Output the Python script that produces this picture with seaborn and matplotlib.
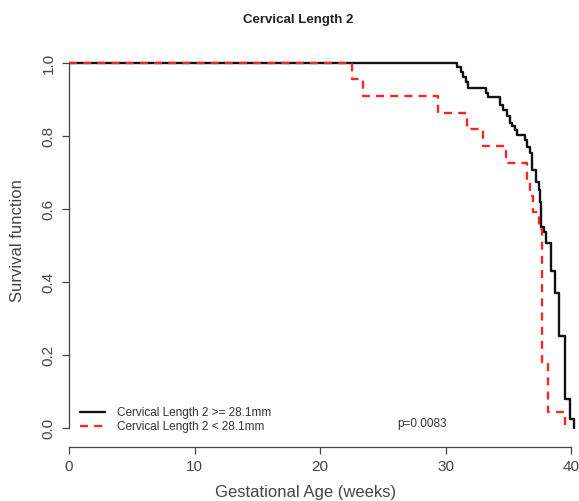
import numpy as np
import pandas as pd
import matplotlib
matplotlib.use("Agg")
import matplotlib.pyplot as plt
import seaborn as sns

# ---- data ----
title = "Cervical Length 2"
label_long = "Cervical Length 2 >= 28.1mm"
label_short = "Cervical Length 2 < 28.1mm"
p_text = "p=0.0083"
x_label = "Gestational Age (weeks)"
y_label = "Survival function"

long_times = [0, 30.9, 31.2, 31.4, 31.6, 31.8, 33.2, 33.4, 34.3, 34.6, 34.9, 35.1, 35.3,
              35.5, 35.7, 36.3, 36.5, 36.7, 36.9, 37.2, 37.4, 37.5, 37.6, 37.85, 38.0,
              38.4, 38.7, 39.0, 39.5, 39.9, 40.2]
long_surv = [1.0, 0.989, 0.975, 0.962, 0.948, 0.932, 0.918, 0.907, 0.885, 0.872, 0.855, 0.836,
             0.828, 0.817, 0.803, 0.790, 0.770, 0.754, 0.708, 0.675, 0.653, 0.620, 0.552,
             0.536, 0.508, 0.430, 0.370, 0.251, 0.079, 0.025, 0.0]

short_times = [0, 22.55, 23.4, 29.4, 31.7, 33.0, 34.8, 36.5, 36.7, 37.0, 37.4, 37.65, 38.15, 39.5]
short_surv = [1.0, 0.955, 0.909, 0.864, 0.818, 0.773, 0.727, 0.682, 0.636, 0.591, 0.545,
              0.182, 0.045, 0.0]

x_ticks = [0, 10, 20, 30, 40]
y_ticks = [0.0, 0.2, 0.4, 0.6, 0.8, 1.0]

df = pd.concat([
    pd.DataFrame({"time": long_times, "surv": long_surv, "group": label_long}),
    pd.DataFrame({"time": short_times, "surv": short_surv, "group": label_short}),
], ignore_index=True)

sns.set_style("white")
plt.rcParams["font.family"] = ["Liberation Sans", "DejaVu Sans"]

W, H = 579, 501
fig = plt.figure(figsize=(W / 100, H / 100), dpi=100)
ax = fig.add_axes([69 / W, 54 / H, 526 / W, 398.6 / H])

black = "#111111"
red = "#ee2a24"
sns.lineplot(data=df, x="time", y="surv", hue="group", style="group",
             hue_order=[label_long, label_short], style_order=[label_long, label_short],
             palette={label_long: black, label_short: red},
             dashes={label_long: "", label_short: (3.4, 2.6)},
             estimator=None, sort=False, drawstyle="steps-post",
             linewidth=1.7, legend=False, ax=ax)

ax.set_xlim(0, 41.9)
ax.set_ylim(-0.052, 1.04)
ax.set_xticks(x_ticks)
ax.set_yticks(y_ticks)
ax.set_xticklabels([str(t) for t in x_ticks])
ax.set_yticklabels([f"{t:.1f}" for t in y_ticks], rotation=90, va="center")
ax.set_xlabel("")
ax.set_ylabel("")

for s in ["top", "right"]:
    ax.spines[s].set_visible(False)
ax.spines["left"].set_bounds(0, 1)
ax.spines["bottom"].set_bounds(0, 40)
for s in ["left", "bottom"]:
    ax.spines[s].set_color("#444444")
    ax.spines[s].set_linewidth(0.9)

ax.tick_params(axis="both", direction="out", length=5, width=0.9, color="#444444",
               labelsize=11, labelcolor="#444444")
ax.tick_params(axis="y", pad=4.5)
ax.tick_params(axis="x", pad=4.5)
ax.tick_params(left=True, bottom=True)

# legend
handles = ax.lines[:2]
leg = ax.legend(handles, [label_long, label_short], loc="lower left",
                bbox_to_anchor=(11 / 526, 14 / 398.6), frameon=False,
                fontsize=8.5, handlelength=2.1, handletextpad=1.0,
                labelspacing=0.2, borderpad=0, borderaxespad=0)
for t in leg.get_texts():
    t.set_color("#333333")

ax.text(28.1, 0.011, p_text, ha="center", va="center", fontsize=8.5, color="#333333")

fig.text(298 / W, 1 - 20 / H, title, ha="center", va="center", fontsize=9.5,
         fontweight="bold", color="#222222")
fig.text(306 / W, 1 - 492 / H, x_label, ha="center", va="center", fontsize=12,
         color="#444444")
fig.text(18 / W, 1 - 241 / H, y_label, ha="center", va="center", fontsize=12,
         rotation=90, color="#444444")

fig.savefig("out.png", dpi=100)
